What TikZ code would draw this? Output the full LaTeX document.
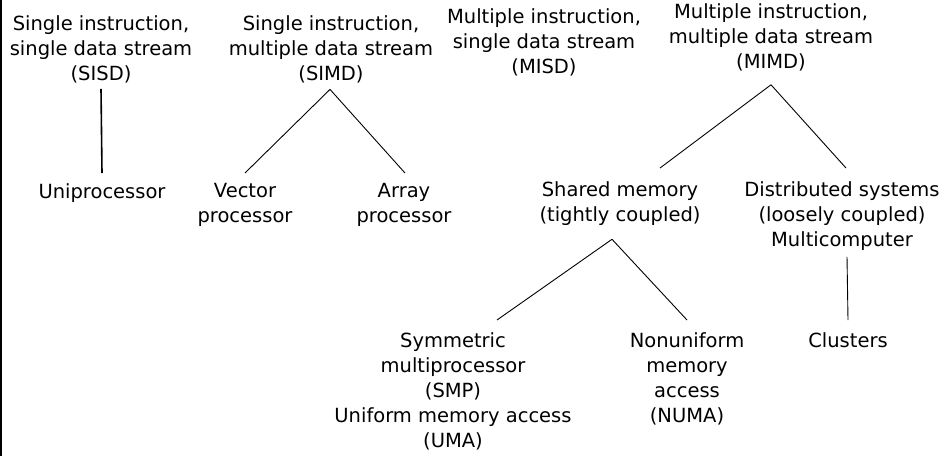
\documentclass[tikz,border=0pt]{standalone}
\usepackage{fontspec}
\setmainfont{DejaVu Sans}
\begin{document}
\begin{tikzpicture}[x=1pt,y=-1pt,
  lbl/.style={anchor=north,inner sep=0pt,align=center,font=\fontsize{19.5}{25}\selectfont},
  link/.style={line width=0.9pt}]
\useasboundingbox (0,0) rectangle (952,456);
\draw[line width=1.6pt] (0.8,0) -- (0.8,456);
% top level
\node[lbl] (sisd) at (101,15) {Single instruction,\\single data stream\\(SISD)};
\node[lbl] (simd) at (331,15) {Single instruction,\\multiple data stream\\(SIMD)};
\node[lbl] (misd) at (544,8) {Multiple instruction,\\single data stream\\(MISD)};
\node[lbl] (mimd) at (771,3) {Multiple instruction,\\multiple data stream\\(MIMD)};
% second level
\node[lbl] (uni) at (102,183) {Uniprocessor};
\node[lbl] (vec) at (245,183) {Vector\\processor};
\node[lbl] (arr) at (404,183) {Array\\processor};
\node[lbl] (shm) at (620,181) {Shared memory\\(tightly coupled)};
\node[lbl] (dist) at (842,181) {Distributed systems\\(loosely coupled)\\Multicomputer};
% third level
\node[lbl] (smp) at (453,332) {Symmetric\\multiprocessor\\(SMP)\\Uniform memory access\\(UMA)};
\node[lbl] (numa) at (687,332) {Nonuniform\\memory\\access\\(NUMA)};
\node[lbl] (clu) at (848,332) {Clusters};
% connectors
\draw[line width=1.6pt] ([yshift=-6pt]sisd.south) -- ([yshift=10pt]uni.north);
\draw[link] ([xshift=-1pt,yshift=-6.6pt]simd.south) -- ([yshift=10pt]vec.north);
\draw[link] ([xshift=-1pt,yshift=-6.6pt]simd.south) -- ([xshift=1pt,yshift=10pt]arr.north);
\draw[link] ([yshift=-14pt]mimd.south) -- ([xshift=40pt,yshift=13pt]shm.north);
\draw[link] ([yshift=-14pt]mimd.south) -- ([xshift=4pt,yshift=13pt]dist.north);
\draw[link] ([xshift=-8pt,yshift=-14pt]shm.south) -- ([xshift=44pt,yshift=12pt]smp.north);
\draw[link] ([xshift=-8pt,yshift=-14pt]shm.south) -- ([yshift=12pt]numa.north);
\draw[link] ([xshift=5pt,yshift=-6.6pt]dist.south) -- ([yshift=12pt]clu.north);
\end{tikzpicture}
\end{document}
